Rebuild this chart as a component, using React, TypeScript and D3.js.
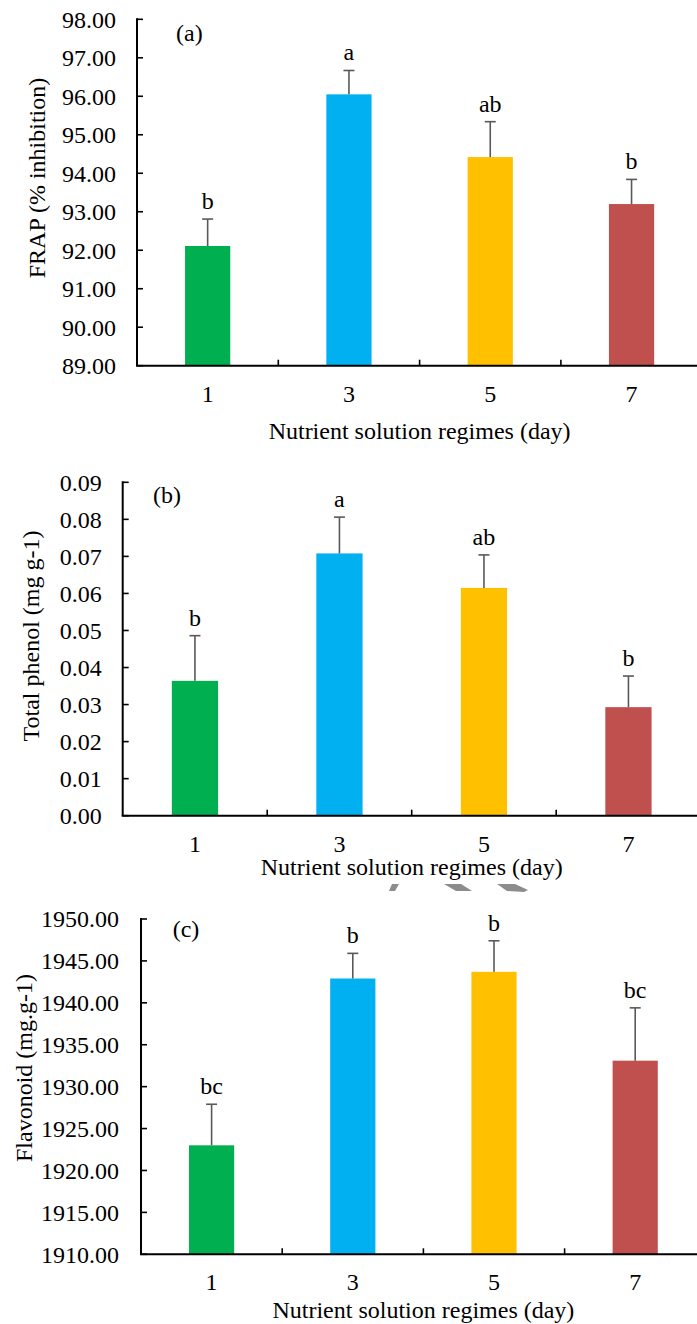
import React from "react";
import * as d3 from "d3";

// values
const days = ["1", "3", "5", "7"];
const barColors = ["#00B050", "#00B0F0", "#FFC000", "#C0504D"];

const frapMeans = [92.11, 96.05, 94.42, 93.2];
const frapErrors = [0.7, 0.62, 0.92, 0.64];
const frapLetters = ["b", "a", "ab", "b"];
const frapTicks = [89, 90, 91, 92, 93, 94, 95, 96, 97, 98];

const phenolMeans = [0.0364, 0.0708, 0.0615, 0.0293];
const phenolErrors = [0.0122, 0.0098, 0.0089, 0.0084];
const phenolLetters = ["b", "a", "ab", "b"];
const phenolTicks = [0, 0.01, 0.02, 0.03, 0.04, 0.05, 0.06, 0.07, 0.08, 0.09];

const flavMeans = [1923.0, 1942.9, 1943.7, 1933.1];
const flavErrors = [4.9, 3.0, 3.7, 6.3];
const flavLetters = ["bc", "b", "b", "bc"];
const flavTicks = [1910, 1915, 1920, 1925, 1930, 1935, 1940, 1945, 1950];

const FONT = "Liberation Serif, Times New Roman, DejaVu Serif, serif";
const FS = 24;

const panels = [
  {
    tag: "(a)", title: "FRAP (% inhibition)", means: frapMeans, errors: frapErrors, letters: frapLetters, ticks: frapTicks,
    x0: 137, top: 19.3, bottom: 365.7, step: 141.3, labelEnd: 116, tagX: 176, tagY: 40.5,
    titleX: 45, titleY: 178, xTitleDy: 73.5,
  },
  {
    tag: "(b)", title: "Total phenol (mg g-1)", means: phenolMeans, errors: phenolErrors, letters: phenolLetters, ticks: phenolTicks,
    x0: 122.7, top: 482.3, bottom: 815.7, step: 144.5, labelEnd: 101.7, tagX: 153, tagY: 503,
    titleX: 38.5, titleY: 636, xTitleDy: 59.5,
  },
  {
    tag: "(c)", title: "Flavonoid (mg.g-1)", means: flavMeans, errors: flavErrors, letters: flavLetters, ticks: flavTicks,
    x0: 141, top: 919, bottom: 1254.3, step: 141.2, labelEnd: 119, tagX: 172.7, tagY: 937,
    titleX: 31.5, titleY: 1068, xTitleDy: 64,
  },
];

function Panel({ p }: { p: any }) {
  const y = d3.scaleLinear()
    .domain([p.ticks[0], p.ticks[p.ticks.length - 1]])
    .range([p.bottom, p.top]);
  const x = d3.scaleBand()
    .domain(days)
    .range([p.x0, p.x0 + p.step * days.length])
    .padding(0);
  const bw = x.bandwidth() * 0.32;
  const fmt = d3.format(".2f");
  const axisColor = "#000";

  return (
    <g style={{ fontFamily: FONT, fontSize: FS }} fill="#000">
      {/* y axis */}
      <line x1={p.x0} x2={p.x0} y1={p.top - 1} y2={p.bottom} stroke={axisColor} strokeWidth={2} />
      {p.ticks.map((t: number) => (
        <g key={t}>
          <line x1={p.x0} x2={p.x0 + 6} y1={y(t)} y2={y(t)} stroke={axisColor} strokeWidth={1.6} />
          <text x={p.labelEnd} y={y(t)} dy="0.35em" textAnchor="end">{fmt(t)}</text>
        </g>
      ))}
      {/* bars */}
      {days.map((d, i) => {
        const cx = (x(d) as number) + x.bandwidth() / 2;
        const yt = y(p.means[i]);
        const ye = y(p.means[i] + p.errors[i]);
        return (
          <g key={d}>
            <rect x={cx - bw / 2} y={yt} width={bw} height={p.bottom - yt} fill={barColors[i]} />
            <line x1={cx} x2={cx} y1={yt} y2={ye} stroke="#595959" strokeWidth={1.6} />
            <line x1={cx - 5.5} x2={cx + 5.5} y1={ye} y2={ye} stroke="#595959" strokeWidth={1.6} />
            <text x={cx} y={ye - 10} textAnchor="middle">{p.letters[i]}</text>
            <text x={cx} y={p.bottom + 36} textAnchor="middle">{d}</text>
          </g>
        );
      })}
      {/* x axis */}
      <line x1={p.x0 - 1} x2={700} y1={p.bottom} y2={p.bottom} stroke={axisColor} strokeWidth={2} />
      {days.slice(1).map((d) => (
        <line key={d} x1={x(d)} x2={x(d)} y1={p.bottom} y2={p.bottom - 6} stroke={axisColor} strokeWidth={1.6} />
      ))}
      <text x={p.x0 + p.step * 2} y={p.bottom + p.xTitleDy} textAnchor="middle">Nutrient solution regimes (day)</text>
      <text transform={`translate(${p.titleX},${p.titleY}) rotate(-90)`} textAnchor="middle">{p.title}</text>
      <text x={p.tagX} y={p.tagY}>{p.tag}</text>
    </g>
  );
}

export default function App() {
  return (
    <svg width={697} height={1324} style={{ position: "absolute", left: 0, top: 0, background: "#fff" }}>
      <rect width={697} height={1324} fill="#fff" />
      {panels.map((p) => <Panel key={p.tag} p={p} />)}
      {/* faint watermark fragments between panels (b) and (c) */}
      <g fill="#8c8c8c">
        <polygon points="392,884 399,884 395,891 389,891" />
        <polygon points="444,884 461,884 472,891 456,891" />
        <polygon points="497,884 515,884 528,890 524,892 507,891" />
      </g>
    </svg>
  );
}
